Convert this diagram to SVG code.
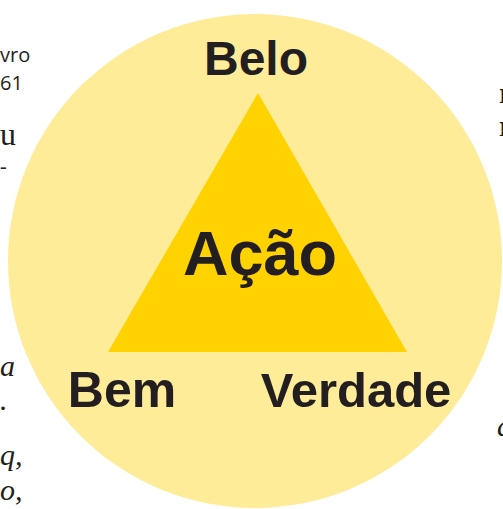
<svg xmlns="http://www.w3.org/2000/svg" width="503" height="509" viewBox="0 0 503 509">
<style>
.lbl{font-family:"Liberation Sans",Arial,sans-serif;font-weight:bold;fill:#231F20;text-anchor:middle}
.pg{font-family:"Liberation Serif","Times New Roman",serif;fill:#231F20}
.pgs{font-family:"Open Sans","Noto Sans",sans-serif;fill:#231F20}
</style>
<rect width="503" height="509" fill="#FFFFFF"/>
<g id="page-text">
<text class="pgs" x="0" y="62" font-size="20">vro</text>
<text class="pgs" x="0" y="90" font-size="20">61</text>
<text class="pg" x="0" y="145" font-size="32">u</text>
<text class="pg" x="0" y="173" font-size="20">-</text>
<text class="pg" x="0" y="376" font-size="30" font-style="italic">a</text>
<text class="pg" x="0" y="410" font-size="30" font-style="italic">.</text>
<text class="pg" x="0" y="465" font-size="30" font-style="italic">q,</text>
<text class="pg" x="0" y="500" font-size="30" font-style="italic">o,</text>
<text class="pg" x="499" y="103" font-size="30" font-weight="bold">r</text>
<text class="pg" x="499" y="136" font-size="30" font-weight="bold">r</text>
<text class="pg" x="497" y="436" font-size="30" font-style="italic">a</text>
</g>
<g id="circle">
<circle cx="255" cy="261" r="247" fill="#FFEC99"/>
</g>
<g id="triangle">
<polygon points="258,93 108,352 407,352" fill="#FFD200"/>
<text class="lbl" x="260" y="275" font-size="63">Ação</text>
</g>
<g id="belo"><text class="lbl" x="256" y="75" font-size="48">Belo</text></g>
<g id="bem"><text class="lbl" x="122" y="407" font-size="50">Bem</text></g>
<g id="verdade"><text class="lbl" x="356" y="407" font-size="49">Verdade</text></g>
<g id="connectors"/>
</svg>
